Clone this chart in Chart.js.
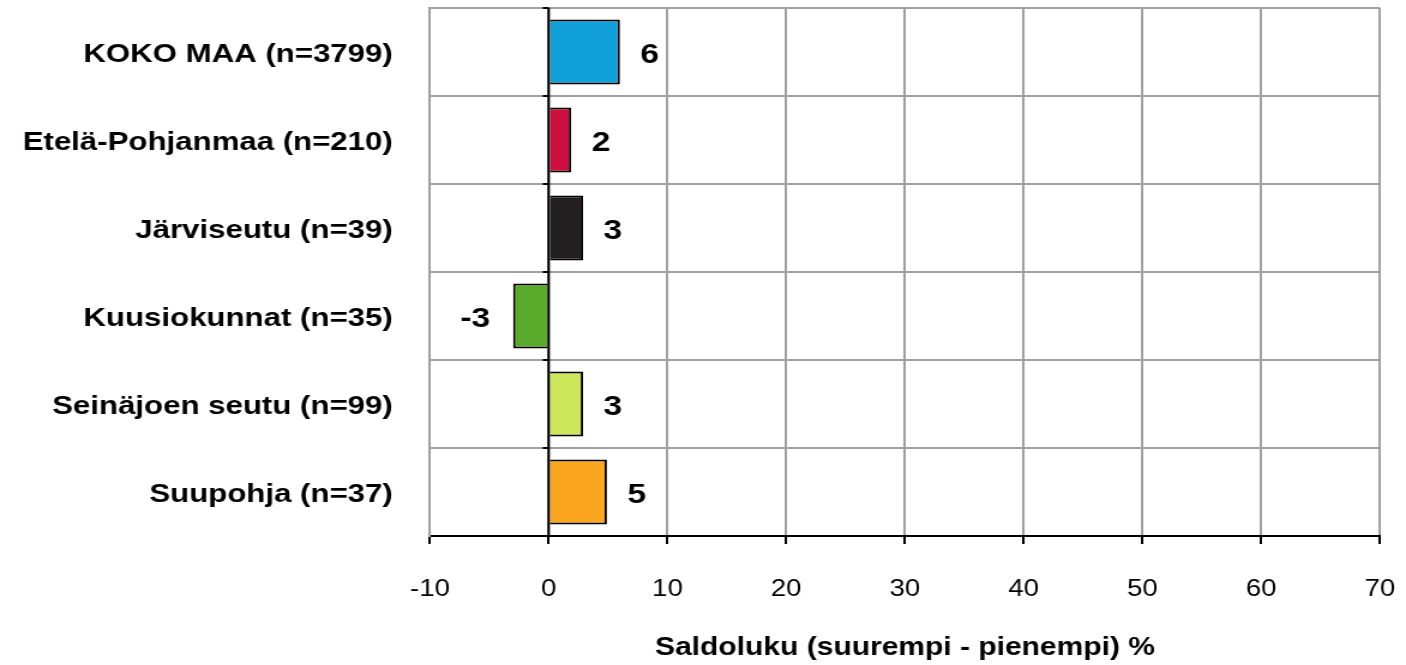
<!DOCTYPE html>
<html>
<head>
<meta charset="utf-8">
<script src="https://cdn.jsdelivr.net/npm/chart.js@4"></script>
<style>
html,body{margin:0;padding:0;background:#fff;overflow:hidden;}
#wrap{width:1172px;height:665px;transform:scaleX(1.19966);transform-origin:0 0;}
canvas{display:block;}
</style>
</head>
<body>
<div id="wrap"><canvas id="c" width="1172" height="665"></canvas></div>
<script>
const categories = ["KOKO MAA (n=3799)", "Etelä-Pohjanmaa (n=210)", "Järviseutu (n=39)", "Kuusiokunnat (n=35)", "Seinäjoen seutu (n=99)", "Suupohja (n=37)"];
const values = [6.0, 1.9, 2.9, -3.0, 2.9, 4.9];
const valueLabels = ["6", "2", "3", "-3", "3", "5"];
const barColors = ["#119FDA", "#CC0F3F", "#231F20", "#5AAA2C", "#CEE65A", "#FBA61E"];
const xTicks = [-10, 0, 10, 20, 30, 40, 50, 60, 70];
const xTitle = "Saldoluku (suurempi - pienempi) %";

const FONT = "'Liberation Sans', Arial, sans-serif";

const labelPlugin = {
  id: 'valLabels',
  afterDatasetsDraw(chart) {
    const ctx = chart.ctx;
    const meta = chart.getDatasetMeta(0);
    const xs = chart.scales.x;
    const ys = chart.scales.y;
    const zero = xs.getPixelForValue(0);
    ctx.save();
    ctx.strokeStyle = '#000';
    ctx.lineWidth = 2;
    ctx.beginPath();
    ctx.moveTo(zero, chart.chartArea.top);
    ctx.lineTo(zero, chart.chartArea.bottom);
    ctx.stroke();
    const n = categories.length;
    const step = ys.getPixelForValue(1) - ys.getPixelForValue(0);
    for (let i = 0; i <= n; i++) {
      const y = ys.getPixelForValue(i) - step / 2;
      ctx.beginPath();
      ctx.moveTo(zero - 5, y);
      ctx.lineTo(zero, y);
      ctx.stroke();
    }
    ctx.fillStyle = '#000';
    ctx.font = "bold 28px " + FONT;
    ctx.textBaseline = 'middle';
    meta.data.forEach((el, i) => {
      const v = values[i];
      if (v >= 0) {
        ctx.textAlign = 'left';
        ctx.fillText(valueLabels[i], el.x + 17, el.y + 3);
      } else {
        ctx.textAlign = 'right';
        ctx.fillText(valueLabels[i], el.x - 19, el.y + 3);
      }
    });
    ctx.restore();
  }
};

new Chart(document.getElementById('c'), {
  type: 'bar',
  data: {
    labels: categories,
    datasets: [{
      data: values,
      backgroundColor: barColors,
      borderColor: '#000',
      borderWidth: 2,
      borderSkipped: 'start',
      categoryPercentage: 1.0,
      barPercentage: 0.74
    }]
  },
  options: {
    indexAxis: 'y',
    responsive: false,
    animation: false,
    devicePixelRatio: 1,
    layout: { padding: { left: 0, right: 21.7, top: 8, bottom: 0 } },
    plugins: {
      legend: { display: false },
      tooltip: { enabled: false }
    },
    scales: {
      x: {
        min: -10,
        max: 70,
        afterBuildTicks(scale) { scale.ticks = xTicks.map(v => ({ value: v })); },
        afterFit(scale) {
          scale.height = 129;
          scale.paddingLeft = 0; scale.paddingRight = 0;
          scale.paddingTop = 0; scale.paddingBottom = 0;
        },
        grid: {
          color: '#A0A0A0',
          lineWidth: 2,
          tickColor: '#000',
          tickLength: 8,
          drawTicks: true
        },
        border: { color: '#000', width: 2 },
        ticks: {
          color: '#000',
          font: { family: FONT, size: 23 },
          padding: 32
        },
        title: {
          display: true,
          text: xTitle,
          color: '#000',
          font: { family: FONT, size: 25, weight: 'bold' },
          padding: { top: 20, bottom: 2 }
        }
      },
      y: {
        offset: true,
        afterFit(scale) {
          scale.width = 358.4;
          scale.paddingTop = 0; scale.paddingBottom = 0;
          scale.paddingLeft = 0; scale.paddingRight = 0;
        },
        grid: {
          offset: true,
          color: '#A0A0A0',
          lineWidth: 2,
          drawTicks: false
        },
        border: { color: '#A0A0A0', width: 2 },
        ticks: {
          color: '#000',
          font: { family: FONT, size: 26, weight: 'bold' },
          padding: 31,
          labelOffset: 3
        }
      }
    }
  },
  plugins: [labelPlugin]
});
</script>
</body>
</html>
